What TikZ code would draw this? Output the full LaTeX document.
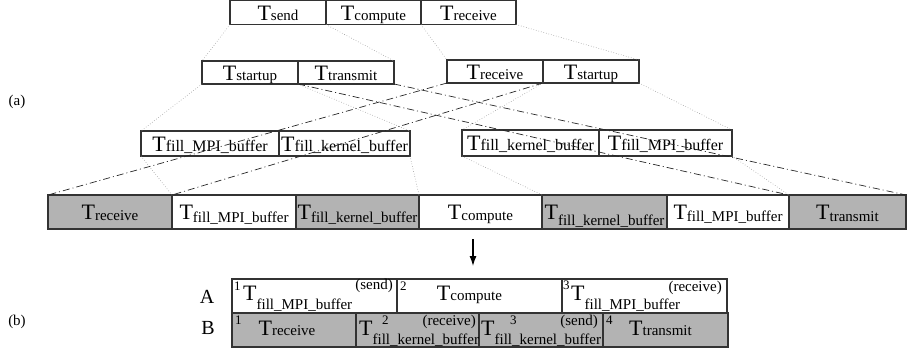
\documentclass[tikz,border=0pt]{standalone}
\usepackage{fontspec}
\setmainfont{Liberation Serif}
\usepackage{tikz}
\definecolor{boxgray}{HTML}{B3B3B3}
\usetikzlibrary{arrows}
\usetikzlibrary{arrows.meta}
\usetikzlibrary{positioning}

% T mit Index auf der Grundlinie bzw. tiefgestellt
\newcommand{\Tup}[2][15]{{\fontsize{22}{22}\selectfont T}{\fontsize{#1}{#1}\selectfont #2}}
\newcommand{\Tlow}[2][3pt]{{\fontsize{22}{22}\selectfont T}\raisebox{-#1}{\fontsize{15}{15}\selectfont #2}}
\newcommand{\nr}[1]{{\fontsize{13}{13}\selectfont #1}}

\begin{document}
\begin{tikzpicture}
    [
    x=1pt, y=-1pt, >=latex, font=\fontsize{15}{15}\selectfont,
    box/.style={draw=black!80, line width=1.1pt, inner sep=0pt, outer sep=0pt,
        anchor=west, text height=15pt, text depth=0pt},
    graybox/.style={box, fill=boxgray},
    rowbox/.style={draw=black!80, line width=1.1pt, inner sep=0pt, outer sep=0pt,
        anchor=west, minimum width=#1, minimum height=34pt},
    rowgray/.style={rowbox=#1, fill=boxgray},
    dotlink/.style={gray!80, dotted, line width=0.6pt},
    dashlink/.style={black!85, dash pattern=on 7pt off 3pt on 1pt off 3pt, line width=0.7pt}
    ]
    \useasboundingbox (0,0) rectangle (907,351);
    
    %Ebene 1
    \node[box, minimum width=96pt, minimum height=24pt] (send) at (230,12.5) {\Tup{send}};
    \node[box, minimum width=95pt, minimum height=24pt, right=0pt of send] (compute) {\Tup{compute}};
    \node[box, minimum width=95pt, minimum height=24pt, right=0pt of compute] (receive) {\Tup{receive}};
    
    %Ebene 2
    \node[box, minimum width=96pt, minimum height=23pt] (startup) at (202,72.5) {\Tup{startup}};
    \node[box, minimum width=96pt, minimum height=23pt, right=0pt of startup] (transmit) {\Tup{transmit}};
    \node[box, minimum width=96pt, minimum height=23pt] (recvtwo) at (447,71.5) {\Tup{receive}};
    \node[box, minimum width=96pt, minimum height=23pt, right=0pt of recvtwo] (startuptwo) {\Tup{startup}};
    
    %Ebene 3
    \node[box, minimum width=138pt, minimum height=25pt] (fmpi) at (141,143.5) {\Tup[16]{fill\_MPI\_buffer}};
    \node[box, minimum width=131pt, minimum height=25pt, right=0pt of fmpi] (fker) {\Tup[16]{fill\_kernel\_buffer}};
    \node[box, minimum width=137pt, minimum height=26pt] (fkertwo) at (462,143) {\Tup[16]{fill\_kernel\_buffer}};
    \node[box, minimum width=133pt, minimum height=26pt, right=0pt of fkertwo] (fmpitwo) {\Tup[16]{fill\_MPI\_buffer}};
    
    %Zeitleiste
    \node[graybox, minimum width=124pt, minimum height=34pt] (recvB) at (48,212) {\Tlow[1pt]{receive}};
    \node[box, minimum width=124pt, minimum height=34pt, right=0pt of recvB] (fmpiB) {\Tlow{fill\_MPI\_buffer}};
    \node[graybox, minimum width=123pt, minimum height=34pt, right=0pt of fmpiB] (fkerB) {\Tlow{fill\_kernel\_buffer}};
    \node[box, minimum width=123pt, minimum height=34pt, right=0pt of fkerB] (compB) {\Tlow[1pt]{compute}};
    \node[graybox, minimum width=125pt, minimum height=34pt, right=0pt of compB] (fkertwoB) {\Tlow[6pt]{fill\_kernel\_buffer}};
    \node[box, minimum width=122pt, minimum height=34pt, right=0pt of fkertwoB] (fmpitwoB) {\Tlow[2pt]{fill\_MPI\_buffer}};
    \node[graybox, minimum width=117pt, minimum height=34pt, right=0pt of fmpitwoB] (transB) {\Tlow[2pt]{transmit}};
    
    %Verbindungen gepunktet
    \draw[dotlink] (send.south west) -- (startup.north west);
    \draw[dotlink] (send.south east) -- (transmit.north east);
    \draw[dotlink] (receive.south west) -- (recvtwo.north west);
    \draw[dotlink] (receive.south east) -- (startuptwo.north east);
    \draw[dotlink] (startup.south west) -- (fmpi.north west);
    \draw[dotlink] (startup.south east) -- (fker.north east);
    \draw[dotlink] (startuptwo.south west) -- (fkertwo.north west);
    \draw[dotlink] (startuptwo.south east) -- (fmpitwo.north east);
    \draw[dotlink] (fmpi.south west) -- (fmpiB.north west);
    \draw[dotlink] (fker.south east) -- (fkerB.north east);
    \draw[dotlink] (fkertwo.south west) -- (fkertwoB.north west);
    \draw[dotlink] (fmpitwo.south east) -- (fmpitwoB.north east);
    
    %Verbindungen strichpunktiert
    \draw[dashlink] (transmit.south west) -- (transB.north west);
    \draw[dashlink] (transmit.south east) -- (transB.north east);
    \draw[dashlink] (recvtwo.south west) -- (recvB.north west);
    \draw[dashlink] (recvtwo.south east) -- (recvB.north east);
    
    %Pfeil
    \coordinate (pfeiloben) at (473,239);
    \coordinate (pfeilunten) at (473,266);
    \draw[-{Latex[length=10pt,width=7pt]}, line width=1.2pt] (pfeiloben) -- (pfeilunten);
    
    %Zeile A
    \node[rowbox=165pt] (A1) at (232,296) {};
    \node[rowbox=165pt, right=0pt of A1] (A2) {};
    \node[rowbox=165pt, right=0pt of A2] (A3) {};
    \node[anchor=north west, inner sep=0pt] (A1nr) at ([shift={(2,3)}]A1.north west) {\nr{1}};
    \node[anchor=base west, inner sep=0pt] (A1txt) at ([shift={(11,4)}]A1.west) {\Tlow[9pt]{fill\_MPI\_buffer}};
    \node[anchor=base east, inner sep=0pt] (A1info) at ([shift={(-4,-7)}]A1.east) {(send)};
    \node[anchor=north west, inner sep=0pt] (A2nr) at ([shift={(3,3)}]A2.north west) {\nr{2}};
    \node[anchor=base, inner sep=0pt] (A2txt) at ([shift={(-10,4)}]A2.center) {\Tup{compute}};
    \node[anchor=north west, inner sep=0pt] (A3nr) at ([shift={(1,2)}]A3.north west) {\nr{3}};
    \node[anchor=base west, inner sep=0pt] (A3txt) at ([shift={(9,4)}]A3.west) {\Tlow[9pt]{fill\_MPI\_buffer}};
    \node[anchor=base east, inner sep=0pt] (A3info) at ([shift={(-5,-5)}]A3.east) {(receive)};
    
    %Zeile B
    \node[rowgray=124pt] (B1) at (232,330) {};
    \node[rowgray=123pt, right=0pt of B1] (B2) {};
    \node[rowgray=124pt, right=0pt of B2] (B3) {};
    \node[rowgray=125pt, right=0pt of B3] (B4) {};
    \node[anchor=north west, inner sep=0pt] (B1nr) at ([shift={(3,3)}]B1.north west) {\nr{1}};
    \node[anchor=base, inner sep=0pt] (B1txt) at ([shift={(-7,5)}]B1.center) {\Tup{receive}};
    \node[anchor=base west, inner sep=0pt] (B2txt) at ([shift={(3,5)}]B2.west) {\Tlow[9pt]{fill\_kernel\_buffer}};
    \node[anchor=north west, inner sep=0pt] (B2nr) at ([shift={(26,3)}]B2.north west) {\nr{2}};
    \node[anchor=base east, inner sep=0pt] (B2info) at ([shift={(-3,-5)}]B2.east) {(receive)};
    \node[anchor=base west, inner sep=0pt] (B3txt) at ([shift={(2,5)}]B3.west) {\Tlow[9pt]{fill\_kernel\_buffer}};
    \node[anchor=north west, inner sep=0pt] (B3nr) at ([shift={(31,3)}]B3.north west) {\nr{3}};
    \node[anchor=base east, inner sep=0pt] (B3info) at ([shift={(-5,-5)}]B3.east) {(send)};
    \node[anchor=north west, inner sep=0pt] (B4nr) at ([shift={(3,3)}]B4.north west) {\nr{4}};
    \node[anchor=base, inner sep=0pt] (B4txt) at ([shift={(-5,5)}]B4.center) {\Tup{transmit}};
    
    %Beschriftung
    \node[anchor=base, font=\fontsize{20}{20}\selectfont] (labA) at (207,303) {A};
    \node[anchor=base, font=\fontsize{20}{20}\selectfont] (labB) at (208,334) {B};
    \node (teila) at (17,102) {(a)};
    \node (teilb) at (17,322) {(b)};
\end{tikzpicture}
\end{document}
